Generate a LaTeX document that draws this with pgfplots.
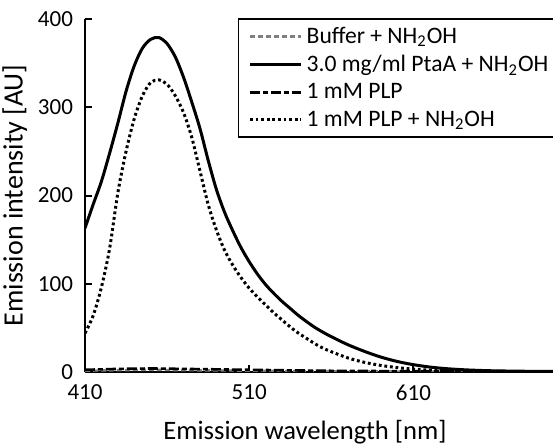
\documentclass[border=0pt]{standalone}
\usepackage{fontspec}
\setmainfont{Carlito}
\usepackage{pgfplots}
\pgfplotsset{compat=1.18}

\definecolor{buffergray}{RGB}{128,128,128}

\begin{document}
\begin{tikzpicture}
\begin{axis}[
  scale only axis,
  width=234pt, height=176.5pt,
  xmin=410, xmax=695, ymin=0, ymax=400,
  axis lines=left,
  axis line style={-, line width=1pt},
  xtick={410,510,610}, ytick={0,100,200,300,400},
  tick align=inside,
  major tick length=3.5pt,
  tick style={line width=1pt, black},
  /pgf/number format/assume math mode=true,
  ticklabel style={font=\fontsize{11.5}{13}\selectfont},
  xticklabel style={yshift=-3pt},
  yticklabel style={xshift=-2.5pt},
  xlabel={Emission wavelength [nm]},
  ylabel={Emission intensity [AU]},
  every axis x label/.style={at={(axis description cs:0.47,-0.17)},anchor=center,font=\fontsize{13.3}{15}\selectfont},
  every axis y label/.style={at={(axis description cs:-0.15,0.5)},rotate=90,anchor=center,font=\fontsize{14}{16}\selectfont},
  legend style={at={(0.326,1.003)}, anchor=north west, draw=black, line width=0.9pt,
    font=\fontsize{11.8}{14}\selectfont, row sep=0.5pt, inner xsep=5pt, inner ysep=2pt},
  legend cell align=left,
  legend image code/.code={\draw[#1] (0cm,0cm) -- (0.9cm,0cm);},
  clip=true,
]

% Buffer + NH2OH
\addplot[buffergray, line width=1.2pt, dash pattern=on 2.5pt off 1.5pt] coordinates {
  (410,1.5) (430,2) (450,2.5) (470,2) (490,1.8) (510,1.5) (530,1.2)
  (550,1) (570,0.8) (600,0.6) (650,0.5) (695,0.5)
};
\addlegendentry{Buffer + NH\textsubscript{2}OH}

% 3.0 mg/ml PtaA + NH2OH
\addplot[black, line width=1.5pt, smooth] coordinates {
  (410,163) (415,190) (420,216) (425,248) (430,282) (435,318) (440,347)
  (445,367) (450,377) (455,379) (460,372) (465,357) (470,334) (475,306)
  (480,276) (485,240) (490,207) (495,181) (500,160) (505,141) (510,125)
  (515,111) (520,99) (525,89) (530,80) (535,72) (540,64) (545,57)
  (550,50.5) (555,45) (560,40) (570,31) (580,23.5) (590,17) (600,12)
  (610,8.3) (620,5.6) (630,3.8) (640,2.6) (650,1.8) (660,1.3) (680,0.8) (695,0.6)
};
\addlegendentry{3.0 mg/ml PtaA + NH\textsubscript{2}OH}

% 1 mM PLP
\addplot[black, line width=1.3pt, dash pattern=on 5pt off 1.5pt on 2.5pt off 1.5pt] coordinates {
  (410,2.5) (430,3.5) (450,4) (470,3.5) (490,3) (510,2.5) (530,2)
  (550,1.5) (570,1.2) (600,1) (650,0.8) (695,0.7)
};
\addlegendentry{1 mM PLP}

% 1 mM PLP + NH2OH
\addplot[black, line width=1.5pt, dash pattern=on 1.4pt off 1.4pt, smooth] coordinates {
  (410,44) (415,64) (420,96) (425,140) (430,203) (435,250) (440,287)
  (445,313) (450,328) (455,331) (460,326) (465,313) (470,294) (475,266)
  (480,228) (485,190) (490,161) (495,138) (500,121) (505,107) (510,95)
  (515,85) (520,76) (525,67) (530,59) (535,51) (540,44) (545,38)
  (550,32) (555,27) (560,23) (570,16) (580,11) (590,7.5) (600,5)
  (610,3.2) (620,2.2) (630,1.5) (640,1) (660,0.6) (695,0.4)
};
\addlegendentry{1 mM PLP + NH\textsubscript{2}OH}

\end{axis}
\pgfresetboundingbox
\path[use as bounding box] (-42.5pt,-36.5pt) rectangle (234pt,186pt);
\end{tikzpicture}
\end{document}
